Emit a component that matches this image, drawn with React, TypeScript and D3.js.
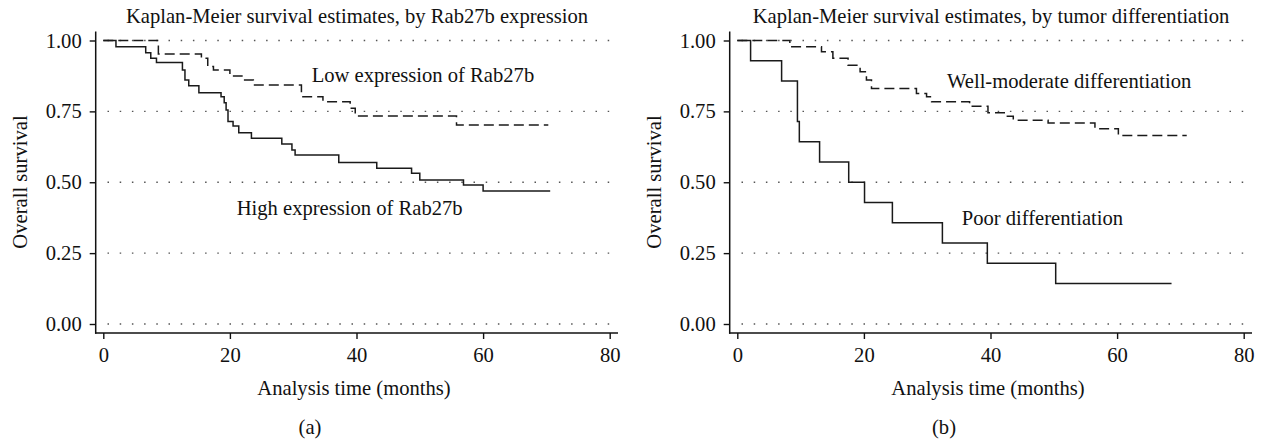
import React, { useEffect, useRef } from "react";
import * as d3 from "d3";

// Panel (a): Rab27b expression
const highTimes = [0, 2, 6.7, 7.5, 8.4, 12.5, 12.9, 13.5, 15.1, 18.6, 19.1, 19.4, 19.7, 20.5, 21.4, 23.4, 28.2, 29.8, 30.3, 37.2, 43.2, 48.7, 50.0, 56.9, 60.0, 70.6];
const highSurv = [1, 0.978, 0.957, 0.937, 0.922, 0.896, 0.861, 0.84, 0.816, 0.802, 0.78, 0.755, 0.714, 0.698, 0.675, 0.655, 0.635, 0.614, 0.596, 0.57, 0.549, 0.532, 0.508, 0.49, 0.469, 0.469];
const lowTimes = [0, 8.7, 15.5, 16.5, 17.4, 20.0, 21.9, 23.7, 31.3, 34.7, 39.0, 39.8, 55.8, 70.3];
const lowSurv = [1, 0.952, 0.937, 0.908, 0.896, 0.875, 0.861, 0.843, 0.802, 0.784, 0.761, 0.734, 0.702, 0.702];

// Panel (b): tumor differentiation
const poorTimes = [0, 2.1, 7.0, 9.5, 9.8, 13.0, 17.6, 20.1, 24.5, 32.4, 39.5, 50.3, 68.6];
const poorSurv = [1, 0.929, 0.857, 0.714, 0.643, 0.571, 0.5, 0.429, 0.357, 0.286, 0.214, 0.143, 0.143];
const wellTimes = [0, 8.3, 13.3, 15.1, 17.5, 19.4, 20.4, 21.2, 28.3, 29.9, 30.7, 36.7, 39.6, 42.5, 43.6, 49.1, 56.5, 60.2, 71.0];
const wellSurv = [1, 0.978, 0.96, 0.937, 0.913, 0.89, 0.861, 0.831, 0.813, 0.802, 0.784, 0.768, 0.745, 0.733, 0.719, 0.709, 0.689, 0.665, 0.665];

const yTicks = [0, 0.25, 0.5, 0.75, 1];
const xTicks = [0, 20, 40, 60, 80];

const panels = [
  {
    offset: 0,
    title: "Kaplan-Meier survival estimates, by Rab27b expression",
    caption: "(a)",
    solid: { times: highTimes, surv: highSurv, label: "High expression of Rab27b", lx: 236.7, ly: 215 },
    dashed: { times: lowTimes, surv: lowSurv, label: "Low expression of Rab27b", lx: 311.7, ly: 82 },
  },
  {
    offset: 634,
    title: "Kaplan-Meier survival estimates, by tumor differentiation",
    caption: "(b)",
    solid: { times: poorTimes, surv: poorSurv, label: "Poor differentiation", lx: 327.7, ly: 225 },
    dashed: { times: wellTimes, surv: wellSurv, label: "Well-moderate differentiation", lx: 313, ly: 88 },
  },
];

const FONT = "'Liberation Serif', 'DejaVu Serif', serif";
const FS = "20.6px";

export default function App() {
  const ref = useRef<SVGSVGElement>(null);

  useEffect(() => {
    const svg = d3.select(ref.current);
    svg.selectAll("*").remove();

    panels.forEach((p) => {
      const g = svg.append("g").attr("transform", `translate(${p.offset},0)`).style("font-family", FONT);

      const x = d3.scaleLinear().domain([0, 80]).range([103.3, 609.7]);
      const y = d3.scaleLinear().domain([0, 1]).range([324, 40.5]);

      // dotted gridlines
      g.selectAll("line.grid")
        .data(yTicks)
        .join("line")
        .attr("class", "grid")
        .attr("x1", 107.5)
        .attr("x2", 616)
        .attr("y1", (d) => y(d))
        .attr("y2", (d) => y(d))
        .attr("stroke", "#555")
        .attr("stroke-width", 1.3)
        .attr("stroke-dasharray", "1.5 10.7");

      // axes
      const yAxis = g.append("g")
        .attr("transform", "translate(95.7,0)")
        .call(d3.axisLeft(y).tickValues(yTicks).tickFormat(d3.format(".2f")).tickSize(6).tickSizeOuter(0).tickPadding(8));
      const xAxis = g.append("g")
        .attr("transform", "translate(0,333)")
        .call(d3.axisBottom(x).tickValues(xTicks).tickFormat(d3.format("d")).tickSize(6).tickSizeOuter(0).tickPadding(8));
      [yAxis, xAxis].forEach((a) => {
        a.select(".domain").remove();
        a.selectAll("line").attr("stroke", "#111").attr("stroke-width", 1.4);
        a.selectAll("text").attr("fill", "#111").style("font-size", FS).style("font-family", FONT);
      });
      g.append("line").attr("x1", 95.7).attr("x2", 95.7).attr("y1", 31.5).attr("y2", 333.7).attr("stroke", "#111").attr("stroke-width", 1.5);
      g.append("line").attr("x1", 95).attr("x2", 618).attr("y1", 333).attr("y2", 333).attr("stroke", "#111").attr("stroke-width", 1.5);

      // survival curves
      const line = d3.line<[number, number]>()
        .x((d) => x(d[0]))
        .y((d) => y(d[1]))
        .curve(d3.curveStepAfter);

      [p.solid, p.dashed].forEach((c, i) => {
        const pts = c.times.map((t, k) => [t, c.surv[k]] as [number, number]);
        g.append("path")
          .attr("d", line(pts))
          .attr("fill", "none")
          .attr("stroke", "#1a1a1a")
          .attr("stroke-width", 1.5)
          .attr("stroke-dasharray", i === 1 ? "10 5" : null);
        g.append("text")
          .attr("x", c.lx)
          .attr("y", c.ly)
          .attr("fill", "#111")
          .style("font-size", FS)
          .text(c.label);
      });

      // titles
      g.append("text")
        .attr("x", 357)
        .attr("y", 23)
        .attr("text-anchor", "middle")
        .attr("fill", "#111")
        .style("font-size", FS)
        .text(p.title);

      g.append("text")
        .attr("x", 354)
        .attr("y", 395)
        .attr("text-anchor", "middle")
        .attr("fill", "#111")
        .style("font-size", FS)
        .text("Analysis time (months)");

      g.append("text")
        .attr("transform", "translate(27,182) rotate(-90)")
        .attr("text-anchor", "middle")
        .attr("fill", "#111")
        .style("font-size", FS)
        .text("Overall survival");

      g.append("text")
        .attr("x", 310)
        .attr("y", 434)
        .attr("text-anchor", "middle")
        .attr("fill", "#111")
        .style("font-size", FS)
        .text(p.caption);
    });
  }, []);

  return (
    <svg
      ref={ref}
      width={1261}
      height={441}
      style={{ position: "absolute", left: 0, top: 0, background: "#fff" }}
    />
  );
}
